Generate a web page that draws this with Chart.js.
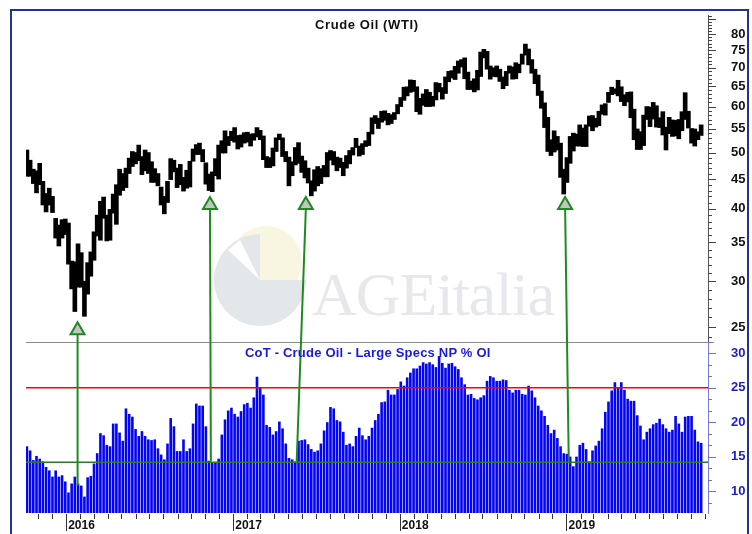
<!DOCTYPE html>
<html>
<head>
<meta charset="utf-8">
<script src="https://cdn.jsdelivr.net/npm/chart.js@4.4.1/dist/chart.umd.min.js"></script>
<style>
  body { margin: 0; background: #fff; }
  #frame { position: absolute; left: 10px; top: 9px; width: 735px; height: 540px; border: 2px solid #22348f; }
  #logo { position: absolute; left: 210px; top: 224px; }
  #wm { position: absolute; left: 312px; top: 259px; font-family: "Liberation Serif", serif; font-size: 62px; color: #e6e8ec; letter-spacing: -1px; }
  .title { position: absolute; font-family: "Liberation Sans", Arial, sans-serif; font-weight: bold; font-size: 13px; white-space: nowrap; }
  #t1 { left: 315px; top: 17px; color: #111; letter-spacing: 0.6px; }
  #t2 { left: 245px; top: 345px; color: #1a1adb; letter-spacing: 0.2px; }
  #wrap { position: absolute; left: 0; top: 0; width: 752px; height: 534px; }
</style>
</head>
<body>
<div id="frame"></div>
<svg id="logo" width="100" height="105">
  <circle cx="56" cy="38" r="36" fill="#f8f5e0"/>
  <path d="M50,56 L50,10 A46,46 0 1,0 96,56 Z" fill="#e4e7ea"/>
  <path d="M50,56 L18,26 L30,16 Z" fill="#ffffff"/>
</svg>
<div id="wm">AGEitalia</div>
<div id="wrap"><canvas id="chart" width="752" height="534"></canvas></div>
<div class="title" id="t1">Crude Oil (WTI)</div>
<div class="title" id="t2">CoT - Crude Oil - Large Specs NP % OI</div>
<script>
// weekly bars, first week starts here
const startDate = '2015-10-07';

// WTI weekly low / high
const priceLow = [
  45.5, 45.5, 44.2, 42.6, 44.0, 40.6, 39.5, 40.6, 39.4, 35.6,
  34.5, 35.6, 36.1, 32.1, 29.1, 26.6, 29.3, 29.3, 26.1, 28.5,
  30.6, 32.6, 35.9, 35.3, 38.5, 35.2, 35.3, 39.3, 37.6, 42.2,
  43.0, 43.5, 46.0, 47.3, 47.8, 48.4, 45.8, 46.5, 46.0, 44.4,
  44.4, 43.8, 40.6, 39.2, 41.0, 44.9, 46.3, 43.5, 44.0, 42.9,
  43.4, 43.6, 48.3, 49.6, 49.6, 48.2, 44.1, 43.0, 42.8, 45.6,
  45.0, 49.9, 49.9, 51.4, 52.4, 52.1, 50.7, 51.1, 51.9, 52.1,
  51.3, 52.5, 53.2, 52.6, 48.6, 47.1, 47.1, 47.4, 50.2, 52.6,
  49.2, 48.2, 43.8, 45.6, 47.6, 47.9, 46.2, 45.2, 44.3, 42.1,
  42.9, 43.8, 44.2, 45.4, 45.4, 48.5, 47.6, 46.5, 47.1, 45.6,
  47.0, 47.8, 49.5, 51.0, 49.3, 49.6, 51.2, 51.4, 53.8, 56.1,
  55.0, 56.4, 56.8, 55.8, 56.1, 57.0, 58.3, 60.0, 61.5, 62.6,
  63.5, 63.7, 58.8, 58.2, 60.3, 60.0, 60.0, 60.1, 61.6, 63.6,
  61.8, 63.2, 66.2, 67.2, 66.8, 68.5, 70.2, 67.0, 64.2, 64.2,
  63.6, 64.1, 67.6, 72.8, 69.6, 66.9, 67.6, 67.5, 66.3, 64.4,
  65.2, 68.5, 66.9, 67.0, 68.6, 71.0, 73.6, 70.8, 68.5, 65.7,
  62.7, 59.6, 55.2, 50.2, 49.4, 50.1, 50.5, 45.3, 42.4, 44.4,
  47.9, 50.3, 51.3, 51.3, 51.2, 51.2, 55.5, 54.5, 55.3, 55.6,
  58.2, 58.0, 61.0, 62.9, 63.1, 62.6, 61.2, 60.2, 61.1, 57.4,
  52.6, 50.6, 50.6, 51.4, 57.0, 55.4, 57.1, 55.3, 55.2, 53.6,
  50.5, 53.9, 53.3, 53.4, 52.8, 54.5, 57.0, 55.1, 51.9, 51.3,
  52.6, 53.5
];
const priceHigh = [
  50.5, 48.5, 46.8, 46.5, 47.9, 44.6, 42.5, 43.4, 42.0, 38.5,
  37.5, 38.3, 38.4, 37.8, 32.5, 32.4, 34.8, 33.6, 30.0, 32.3,
  33.7, 36.5, 39.0, 41.2, 41.9, 39.0, 39.9, 42.4, 44.0, 46.8,
  46.0, 47.0, 48.9, 50.2, 50.0, 51.5, 49.2, 50.5, 50.0, 48.2,
  46.9, 46.0, 43.6, 42.0, 44.6, 48.8, 48.5, 47.0, 47.7, 45.3,
  46.6, 48.3, 50.7, 51.6, 51.9, 50.6, 48.0, 45.9, 46.3, 48.8,
  51.5, 52.4, 54.5, 53.3, 54.4, 55.2, 53.5, 53.6, 54.1, 54.2,
  53.8, 53.9, 55.2, 54.6, 53.4, 49.2, 49.0, 50.9, 53.0, 53.8,
  53.0, 50.2, 49.1, 48.2, 51.0, 52.0, 49.3, 48.4, 47.0, 44.7,
  46.7, 47.3, 46.9, 47.5, 50.0, 50.4, 50.2, 49.1, 48.9, 48.1,
  49.4, 50.4, 51.0, 52.9, 51.3, 51.8, 52.4, 54.2, 57.4, 57.9,
  57.3, 58.9, 59.0, 58.4, 58.1, 58.6, 60.5, 62.2, 64.8, 64.9,
  66.7, 66.6, 64.9, 62.0, 63.1, 64.2, 63.5, 62.5, 66.0, 65.8,
  64.7, 67.5, 69.0, 69.2, 70.4, 71.9, 72.3, 72.8, 68.8, 66.4,
  67.0, 69.3, 74.5, 75.3, 74.7, 70.5, 70.0, 70.5, 69.6, 67.5,
  69.0, 70.5, 70.2, 71.4, 71.0, 73.9, 76.9, 75.4, 72.3, 69.6,
  68.0, 63.8, 60.9, 57.5, 52.6, 54.5, 53.3, 51.9, 46.8, 49.0,
  53.3, 54.0, 53.8, 55.8, 55.1, 55.8, 57.8, 57.9, 57.3, 58.9,
  60.4, 60.7, 63.5, 64.8, 64.4, 66.6, 64.9, 62.9, 63.5, 63.6,
  59.4, 54.9, 54.3, 58.0, 60.0, 59.9, 61.0, 60.2, 57.4, 58.8,
  55.3, 57.5, 56.9, 56.8, 57.0, 58.8, 63.4, 58.9, 55.0, 54.9,
  54.3, 55.8
];

// CoT large specs net position, % of open interest
const cotValues = [
  16.5, 15.9, 14.5, 15.1, 14.7, 14.3, 13.5, 13.0, 12.1, 13.0,
  12.1, 12.3, 11.4, 9.8, 11.1, 12.1, 11.1, 10.8, 9.2, 12.0,
  12.2, 14.0, 15.5, 18.4, 18.1, 16.7, 16.5, 19.8, 19.8, 18.5,
  17.3, 22.0, 21.2, 20.8, 19.0, 18.0, 18.7, 18.0, 17.5, 17.4,
  17.5, 16.2, 15.3, 14.6, 16.9, 20.6, 19.4, 15.8, 15.8, 17.5,
  15.8, 16.2, 19.8, 22.7, 22.4, 22.4, 19.4, 14.4, 14.1, 14.1,
  14.7, 18.2, 20.4, 21.7, 22.1, 21.2, 20.8, 21.6, 22.6, 22.8,
  22.1, 23.6, 26.6, 25.0, 24.0, 19.6, 19.3, 18.2, 18.7, 20.1,
  19.1, 16.9, 14.8, 14.6, 14.3, 17.3, 17.4, 17.5, 16.8, 16.1,
  15.7, 15.9, 16.9, 18.8, 20.0, 22.2, 22.0, 20.3, 20.1, 18.6,
  16.7, 16.9, 16.5, 18.0, 19.2, 18.1, 17.5, 18.0, 19.2, 20.3,
  21.2, 22.9, 23.0, 24.7, 24.0, 24.0, 24.8, 25.9, 25.3, 26.5,
  27.2, 27.8, 27.8, 28.2, 28.7, 28.5, 28.7, 28.4, 28.0, 29.6,
  28.6, 27.9, 28.5, 28.6, 28.1, 27.7, 26.5, 25.5, 24.0, 24.1,
  23.5, 23.3, 23.6, 23.9, 26.0, 26.7, 26.5, 26.0, 26.0, 26.2,
  26.1, 24.7, 24.3, 24.7, 24.7, 24.1, 24.0, 25.3, 24.6, 23.6,
  22.4, 21.7, 20.9, 19.6, 18.4, 18.9, 17.7, 16.5, 15.5, 15.4,
  15.0, 13.6, 15.0, 16.7, 17.0, 16.1, 14.3, 15.9, 16.6, 17.3,
  19.1, 21.5, 23.0, 24.6, 25.8, 25.0, 25.8, 24.7, 23.4, 23.1,
  23.1, 21.0, 19.5, 17.5, 18.6, 19.1, 19.7, 19.9, 20.5, 19.7,
  19.1, 18.6, 18.9, 20.9, 19.8, 18.6, 20.8, 20.9, 20.9, 18.9,
  17.2, 17.0
];

const priceTicks = [25, 30, 35, 40, 45, 50, 55, 60, 65, 70, 75, 80];
const cotTicks = [10, 15, 20, 25, 30];
const upperLevel = 25;
const lowerLevel = 14.2;

// green arrows: price lows vs CoT lows
const arrowTopDates = ['2016-01-26', '2016-11-11', '2017-06-09', '2018-12-29'];
const arrowTipPrices = [25.5, 41.9, 41.9, 41.9];
const arrowBottomDates = ['2016-01-26', '2016-11-13', '2017-05-20', '2019-01-06'];
const arrowBottomCot = [10.8, 14.3, 14.3, 14.3];

const DAY = 864e5;
const dayOf = (d) => (Date.parse(d) - Date.parse(startDate)) / DAY;
const weeks = priceLow.map((_, i) => i * 7);

const monthTicks = [];
for (let y = 2015; y <= 2019; y++) {
  for (let m = 0; m < 12; m++) {
    const d = (Date.UTC(y, m, 1) - Date.parse(startDate)) / DAY;
    if (d >= -2 && d <= 1492) monthTicks.push({ day: d, month: m, year: y });
  }
}

const font = 'Liberation Sans, Arial, sans-serif';

function line(ctx, x1, y1, x2, y2) {
  ctx.beginPath();
  ctx.moveTo(x1, y1);
  ctx.lineTo(x2, y2);
  ctx.stroke();
}

const overlay = {
  id: 'overlay',
  afterDatasetsDraw(chart) {
    const { ctx, chartArea: a, scales } = chart;
    const x = scales.x;
    const yp = scales.yPrice;
    const yc = scales.yCot;
    ctx.save();

    // panel separator
    ctx.strokeStyle = '#8a8a8a';
    ctx.lineWidth = 1;
    line(ctx, a.left, Math.round(yc.top) + 0.5, a.right + 6, Math.round(yc.top) + 0.5);

    // levels
    ctx.lineWidth = 1.5;
    ctx.strokeStyle = '#ff0000';
    let yy = yc.getPixelForValue(upperLevel);
    line(ctx, a.left, yy, a.right, yy);
    ctx.strokeStyle = '#2a7a2a';
    yy = yc.getPixelForValue(lowerLevel);
    line(ctx, a.left, yy, a.right, yy);

    // arrows
    arrowTopDates.forEach((d, i) => {
      const xt = x.getPixelForValue(dayOf(d));
      const tip = yp.getPixelForValue(arrowTipPrices[i]);
      const xb = x.getPixelForValue(dayOf(arrowBottomDates[i]));
      const yb = yc.getPixelForValue(arrowBottomCot[i]);
      ctx.strokeStyle = '#1f8a1f';
      ctx.lineWidth = 2;
      line(ctx, xb, yb, xt, tip + 12);
      ctx.beginPath();
      ctx.moveTo(xt, tip);
      ctx.lineTo(xt + 7, tip + 12);
      ctx.lineTo(xt - 7, tip + 12);
      ctx.closePath();
      ctx.fillStyle = '#c4c4c4';
      ctx.fill();
      ctx.stroke();
    });

    // right axis tick marks
    ctx.lineWidth = 1;
    ctx.strokeStyle = '#444';
    for (let v = 24; v <= 86; v++) {
      const p = Math.round(yp.getPixelForValue(v)) + 0.5;
      if (p < yp.top || p > yp.bottom) continue;
      line(ctx, a.right, p, a.right + (v % 5 === 0 ? 8 : 4), p);
    }
    ctx.strokeStyle = '#7070d8';
    for (let k = 4; k <= 19; k++) {
      const v = k * 5 / 3;
      const p = Math.round(yc.getPixelForValue(v)) + 0.5;
      if (p < yc.top || p > yc.bottom) continue;
      line(ctx, a.right, p, a.right + (k % 3 === 0 ? 8 : 4), p);
    }

    // month / year ticks under the time axis
    ctx.strokeStyle = '#333';
    monthTicks.forEach((t) => {
      const p = Math.round(x.getPixelForValue(t.day)) + 0.5;
      line(ctx, p, a.bottom + 1, p, a.bottom + (t.month === 0 ? 18 : 6));
    });
    ctx.restore();
  }
};

new Chart(document.getElementById('chart'), {
  type: 'bar',
  data: {
    datasets: [
      {
        label: 'Crude Oil (WTI)',
        data: weeks.map((d, i) => ({ x: d, y: [priceLow[i], priceHigh[i]] })),
        yAxisID: 'yPrice',
        backgroundColor: '#000',
        barThickness: 4,
        grouped: false
      },
      {
        label: 'CoT - Crude Oil - Large Specs NP % OI',
        data: weeks.map((d, i) => ({ x: d, y: cotValues[i] })),
        yAxisID: 'yCot',
        backgroundColor: '#0404f4',
        barPercentage: 0.82,
        categoryPercentage: 1,
        grouped: false
      }
    ]
  },
  options: {
    responsive: false,
    animation: false,
    devicePixelRatio: 1,
    events: [],
    layout: { padding: { left: 26, top: 15, right: 0, bottom: 0 } },
    plugins: { legend: { display: false }, tooltip: { enabled: false } },
    scales: {
      x: {
        type: 'linear',
        position: 'bottom',
        offset: false,
        min: -2,
        max: 1492,
        afterBuildTicks: (s) => {
          s.ticks = monthTicks.map((t) => ({ value: t.day }));
          s.min = -2;
          s.max = 1492;
        },
        afterFit: (s) => { s.height = 21; },
        grid: { display: false, drawTicks: false },
        border: { display: false },
        ticks: {
          autoSkip: false,
          maxRotation: 0,
          align: 'start',
          labelOffset: 2,
          padding: 5,
          color: '#111',
          font: { family: font, size: 12, weight: 'bold' },
          callback: (v) => {
            const t = monthTicks.find((m) => m.day === v);
            return t && t.month === 0 ? String(t.year) : '';
          }
        }
      },
      yPrice: {
        type: 'logarithmic',
        position: 'right',
        stack: 'panels',
        stackWeight: 327,
        bounds: 'data',
        min: 23.57,
        max: 86.3,
        afterBuildTicks: (s) => {
          s.ticks = priceTicks.map((v) => ({ value: v }));
          s.min = 23.57;
          s.max = 86.3;
        },
        afterFit: (s) => { s.width = 44; },
        grid: { drawOnChartArea: false, drawTicks: true, tickLength: 23, color: 'rgba(0,0,0,0)' },
        border: { color: '#555' },
        ticks: {
          autoSkip: false,
          padding: 0,
          color: '#111',
          font: { family: font, size: 13, weight: 'bold' },
          callback: (v) => String(v)
        }
      },
      yCot: {
        type: 'linear',
        position: 'right',
        stack: 'panels',
        stackWeight: 171,
        bounds: 'data',
        min: 6.82,
        max: 31.64,
        afterBuildTicks: (s) => {
          s.ticks = cotTicks.map((v) => ({ value: v }));
          s.min = 6.82;
          s.max = 31.64;
        },
        afterFit: (s) => { s.width = 44; },
        grid: { drawOnChartArea: false, drawTicks: true, tickLength: 23, color: 'rgba(0,0,0,0)' },
        border: { color: '#7b7bdc' },
        ticks: {
          autoSkip: false,
          padding: 0,
          color: '#1c1cd0',
          font: { family: font, size: 13, weight: 'bold' },
          callback: (v) => String(v)
        }
      }
    }
  },
  plugins: [overlay]
});
</script>
</body>
</html>
